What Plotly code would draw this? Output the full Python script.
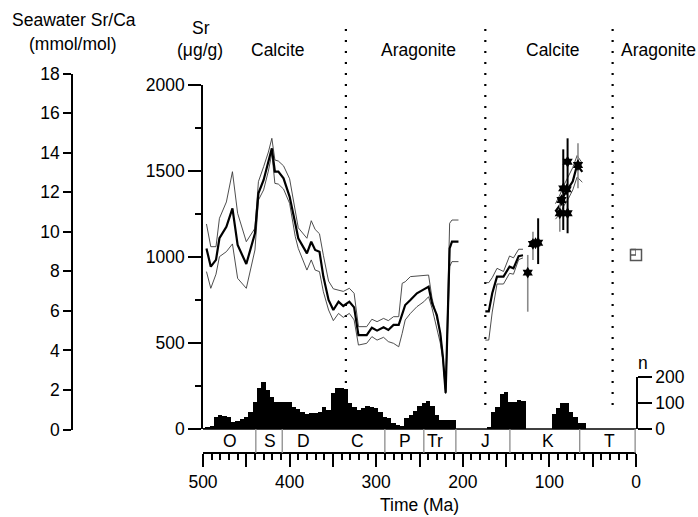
import plotly.graph_objects as go

# ---------------- data ----------------
# Paleozoic - Triassic smoothed Sr record (Ma, ug/g) with upper / lower bounds
pz_t = [496, 491, 485, 481, 473, 466, 460, 450, 440, 436, 430, 424.5, 420.5, 417, 413, 407,
        400, 393.5, 390, 380, 375, 370.5, 365.5, 361, 355, 349.5, 343.5, 338, 331, 325.5,
        320.5, 311, 305, 299, 291.5, 286, 280, 274, 270, 266.5, 260.5, 253, 245, 239.5,
        235.5, 230, 226, 223, 219.8, 215.2, 212.5, 205]
pz_sr = [1050, 944, 983, 1109, 1176, 1283, 1070, 959, 1138, 1370, 1448, 1554, 1632, 1496, 1496, 1457,
         1351, 1196, 1109, 1021, 1089, 1041, 1031, 886, 750, 692, 740, 715, 740, 707,
         546, 546, 589, 572, 591, 576, 605, 605, 672, 721, 750, 789, 812, 827,
         731, 663, 556, 420, 210, 1050, 1089, 1089]
pz_hi = [1192, 1060, 1060, 1225, 1320, 1496, 1254, 1089, 1167, 1438, 1525, 1610, 1690, 1564, 1558, 1530,
         1455, 1260, 1170, 1109, 1211, 1160, 1135, 1010, 860, 815, 808, 800, 818, 789,
         595, 595, 638, 624, 643, 630, 653, 653, 847, 856, 886, 888, 892, 895,
         760, 650, 560, 420, 215, 1196, 1215, 1215]
pz_lo = [915, 818, 900, 1002, 1031, 1076, 876, 818, 1041, 1331, 1390, 1500, 1603, 1428, 1424, 1395,
         1312, 1120, 1050, 924, 983, 924, 915, 798, 692, 630, 672, 649, 672, 634,
         488, 498, 537, 517, 533, 508, 498, 478, 556, 634, 672, 711, 740, 769,
         702, 595, 500, 401, 205, 944, 973, 973]

# Jurassic segment
j_t = [174, 170, 166, 160.5, 153, 146, 141.5, 135.5, 130.5]
j_sr = [684, 684, 789, 886, 886, 944, 934, 1005, 1010]
j_hi = [851, 851, 880, 934, 916, 1006, 995, 1045, 1045]
j_lo = [517, 517, 680, 843, 843, 905, 900, 985, 995]

# Late Cretaceous segment
k_t = [93, 88, 83, 78, 73, 68, 62]
k_sr = [1265, 1300, 1360, 1400, 1440, 1535, 1495]
k_hi = [1310, 1360, 1420, 1470, 1520, 1590, 1545]
k_lo = [1220, 1250, 1300, 1340, 1390, 1465, 1435]

# Cretaceous individual samples
pb_t = [113, 84, 79]
pb_sr = [1083, 1399, 1554]
pb_up = [142, 227, 136]
pb_dn = [124, 242, 416]
pg_t = [125, 119, 88, 67]
pg_sr = [909, 1076, 1254, 1535]
pg_up = [103, 71, 77, 126]
pg_dn = [227, 93, 107, 136]
pn_t = [116, 86, 80, 79]
pn_sr = [1080, 1331, 1393, 1254]

# Modern value
m_t = [0]
m_sr = [1012]
m_up = [32]

# number of samples per 5 Ma bin (bin centres)
n_t = [500, 495, 490, 485, 480, 475, 470, 465, 460, 455, 450, 445, 440, 435, 430, 425, 420, 415,
       410, 405, 400, 395, 390, 385, 380, 375, 370, 365, 360, 355, 350, 345, 340, 335, 330, 325,
       320, 315, 310, 305, 300, 295, 290, 285, 280, 275, 270, 265, 260, 255, 250, 245, 240, 235,
       230, 225, 220, 215, 210,
       170, 165, 160, 155, 150, 145, 140, 135, 130,
       95, 90, 85, 80, 75, 70, 65, 60]
n_val = [2, 5, 10, 47, 54, 50, 47, 28, 30, 37, 45, 67, 105, 156, 180, 150, 124, 105,
         103, 105, 103, 86, 76, 67, 58, 60, 60, 67, 86, 73, 137, 156, 156, 152, 99, 86,
         73, 80, 88, 83, 80, 66, 45, 41, 22, 17, 13, 41, 54, 70, 90, 100, 107, 90,
         55, 36, 33, 33, 33,
         4, 67, 86, 135, 144, 105, 105, 112, 108,
         57, 80, 101, 101, 67, 47, 22, 22]

# geological periods
per_names = ["O", "S", "D", "C", "P", "Tr", "J", "K", "T"]
per_label_t = [469, 423, 384, 322, 266.5, 232, 174, 102, 31]
per_bounds = [439, 408.5, 290, 245, 208, 145.6, 65, 1]
# mineralogy boundaries (dotted)
min_bounds = [335, 174, 27]
min_names = ["Calcite", "Aragonite", "Calcite", "Aragonite"]
min_label_px = [277.5, 418.7, 553, 658]

time_ticks = [0, 50, 100, 150, 200, 250, 300, 350, 400, 450, 500]

# ---------------- geometry helpers (pixel -> paper) ----------------
W, H = 698, 517
L, R, T, B = 60, 62, 28, 64
PW, PH = W - L - R, H - T - B


def px(x):
    return (x - L) / PW


def py(y):
    return (H - B - y) / PH


FONT = "Liberation Sans, Arial, Helvetica, sans-serif"
FS = 17.5

fig = go.Figure()

thin = dict(color="#3a3a3a", width=0.9)
thick = dict(color="black", width=2.2)
for tt, lo, hi, mid in [(pz_t, pz_lo, pz_hi, pz_sr), (j_t, j_lo, j_hi, j_sr), (k_t, k_lo, k_hi, k_sr)]:
    fig.add_trace(go.Scatter(x=tt, y=hi, mode="lines", line=thin, xaxis="x", yaxis="y"))
    fig.add_trace(go.Scatter(x=tt, y=lo, mode="lines", line=thin, xaxis="x", yaxis="y"))
    fig.add_trace(go.Scatter(x=tt, y=mid, mode="lines", line=thick, xaxis="x", yaxis="y"))

fig.add_trace(go.Scatter(x=pg_t, y=pg_sr, mode="markers", xaxis="x", yaxis="y",
                         marker=dict(symbol="hexagram", size=9, color="black"),
                         error_y=dict(type="data", symmetric=False, array=pg_up, arrayminus=pg_dn,
                                      color="#8a8a8a", thickness=1.6, width=0)))
fig.add_trace(go.Scatter(x=pb_t, y=pb_sr, mode="markers", xaxis="x", yaxis="y",
                         marker=dict(symbol="hexagram", size=9, color="black"),
                         error_y=dict(type="data", symmetric=False, array=pb_up, arrayminus=pb_dn,
                                      color="black", thickness=2, width=0)))
fig.add_trace(go.Scatter(x=pn_t, y=pn_sr, mode="markers", xaxis="x", yaxis="y",
                         marker=dict(symbol="hexagram", size=9, color="black")))
fig.add_trace(go.Scatter(x=m_t, y=m_sr, mode="markers", xaxis="x", yaxis="y", cliponaxis=False,
                         marker=dict(symbol="square-open", size=11, color="#555",
                                     line=dict(width=1.5, color="#555")),
                         error_y=dict(type="data", symmetric=False, array=m_up, arrayminus=[0],
                                      color="#555", thickness=1.4, width=5)))

# histogram
fig.add_trace(go.Bar(x=n_t, y=n_val, width=5, xaxis="x", yaxis="y3",
                     marker=dict(color="black", line=dict(width=0))))

# dummy trace to materialise the seawater Sr/Ca axis
fig.add_trace(go.Scatter(x=[500], y=[0], mode="markers", marker=dict(opacity=0),
                         xaxis="x", yaxis="y2", hoverinfo="skip"))

shapes = []
# mineralogy dotted lines
for b in min_bounds:
    shapes.append(dict(type="line", xref="x", yref="paper", x0=b, x1=b, y0=py(405), y1=1.0,
                       line=dict(color="black", width=2.2, dash="2px,9px"), layer="below"))
# period bar top line
shapes.append(dict(type="line", xref="x", yref="paper", x0=500, x1=0, y0=py(429), y1=py(429),
                   line=dict(color="black", width=1.5)))
for b in per_bounds:
    shapes.append(dict(type="line", xref="x", yref="paper", x0=b, x1=b, y0=0, y1=py(429),
                       line=dict(color="#8c8c8c", width=1.3)))

ann = []
for nm, t in zip(per_names, per_label_t):
    ann.append(dict(x=t, y=py(441), xref="x", yref="paper", text=nm, showarrow=False,
                    xanchor="center", yanchor="middle", font=dict(size=FS)))
for nm, xp in zip(min_names, min_label_px):
    ann.append(dict(x=px(xp), y=py(50), xref="paper", yref="paper", text=nm, showarrow=False,
                    xanchor="center", yanchor="middle", font=dict(size=FS)))
extra = [("Seawater Sr/Ca", 73.5, 20), ("(mmol/mol)", 73, 44), ("Sr", 201, 28), ("(\u03bcg/g)", 200, 50),
         ("n", 643, 363), ("Time (Ma)", 419, 505)]
for txt, xx, yy in extra:
    ann.append(dict(x=px(xx), y=py(yy), xref="paper", yref="paper", text=txt, showarrow=False,
                    xanchor="center", yanchor="middle", font=dict(size=FS)))

x0 = px(203)
ax_common = dict(showgrid=False, zeroline=False, showline=True, linecolor="black", linewidth=1.6,
                 ticks="outside", tickcolor="black", tickwidth=1.6,
                 tickfont=dict(size=FS, color="black", family=FONT))

fig.update_layout(
    width=W, height=H, margin=dict(l=L, r=R, t=T, b=B, pad=0),
    paper_bgcolor="white", plot_bgcolor="rgba(0,0,0,0)",
    showlegend=False, bargap=0,
    font=dict(family=FONT, size=FS, color="black"),
    xaxis=dict(ax_common, domain=[x0, 1], range=[500, 0], anchor="free", position=0,
               tickmode="array", tickvals=time_ticks,
               ticktext=[str(v) if v % 100 == 0 else "" for v in time_ticks],
               ticklen=13, minor=dict(dtick=10, tick0=0, ticklen=6, ticks="outside",
                                      tickcolor="black", tickwidth=1.6)),
    yaxis=dict(ax_common, domain=[py(429), py(85)], range=[0, 2000], anchor="x",
               tickvals=[0, 500, 1000, 1500, 2000], ticklen=13,
               minor=dict(dtick=250, ticklen=6, ticks="outside", tickcolor="black", tickwidth=1.6)),
    yaxis2=dict(ax_common, domain=[py(429.5), py(73.5)], range=[0, 18], anchor="free",
                position=px(72), side="left", dtick=2, ticklen=8),
    yaxis3=dict(ax_common, domain=[py(429), py(377)], range=[0, 200], anchor="x", side="right",
                tickvals=[0, 100, 200], ticklen=14),
    shapes=shapes, annotations=ann,
)

fig.write_html("out.html")
